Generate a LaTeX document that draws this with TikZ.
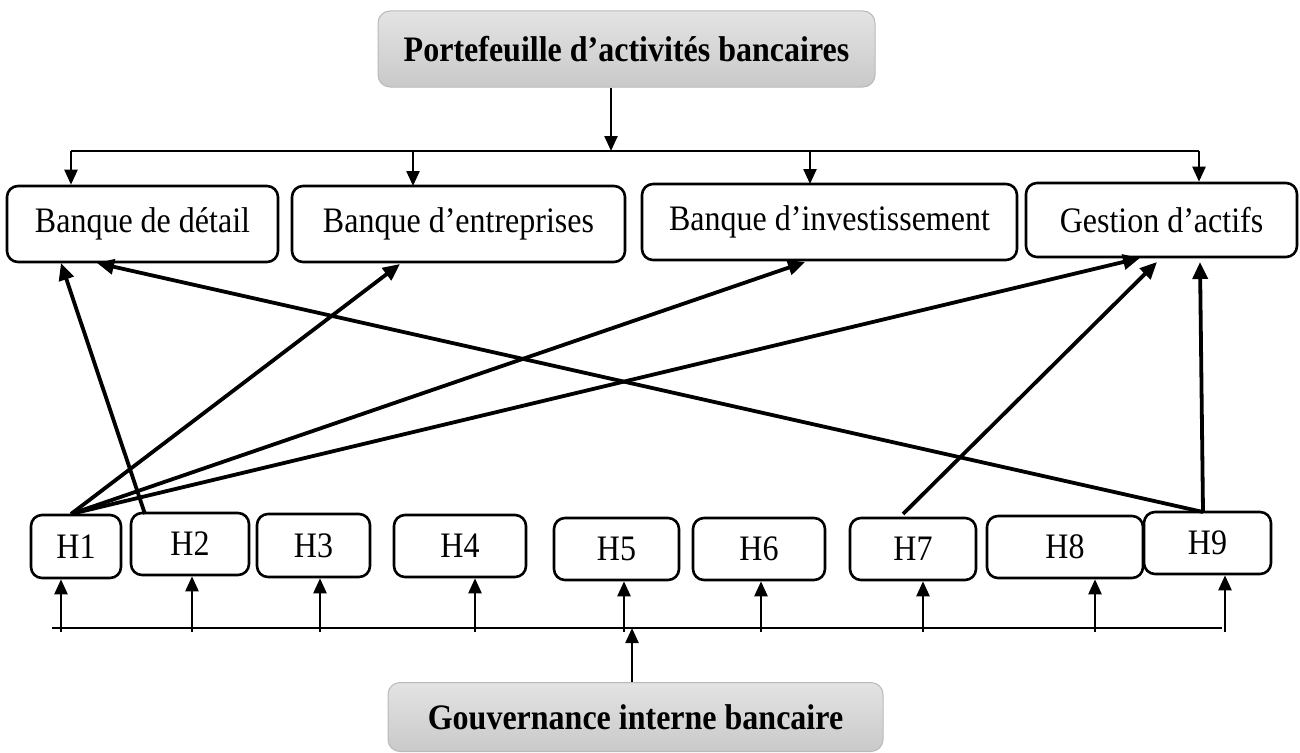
\documentclass[tikz,border=0pt]{standalone}
\usepackage{fontspec}
\usepackage{graphicx}
\setmainfont{Liberation Serif}
\usetikzlibrary{arrows.meta}
\newcommand{\tall}[1]{\scalebox{1}[1.12]{#1}}
\begin{document}
\begin{tikzpicture}[x=1pt,y=-1pt,
  font=\fontsize{32}{36}\selectfont,
  box/.style={draw=black,line width=2.6pt,rounded corners=11pt,inner sep=0pt,fill=white},
  hbox/.style={box},
  grey/.style={draw=gray!55,line width=1pt,rounded corners=12pt,inner sep=0pt,
    top color=gray!22,bottom color=gray!42,font=\fontsize{32}{36}\selectfont\bfseries},
  link/.style={line width=2.4pt,-{Triangle[length=15pt,width=13pt]}},
  plain/.style={line width=2.4pt},
  diag/.style={line width=3.8pt,-{Triangle[length=17pt,width=15pt]}}]
\useasboundingbox (0,0) rectangle (1300,752);
% header / footer
\node[grey,minimum width=497pt,minimum height=76pt] (top) at (626.5,49) {\tall{Portefeuille d’activités bancaires}};
\node[grey,minimum width=495pt,minimum height=69pt] (bot) at (635.5,717) {\tall{Gouvernance interne bancaire}};
% activity boxes
\node[box,minimum width=271pt,minimum height=76pt] (bd) at (142.5,224) {\tall{Banque de détail}};
\node[box,minimum width=333pt,minimum height=76pt] (be) at (458.5,224) {\tall{Banque d’entreprises}};
\node[box,minimum width=375pt,minimum height=76pt] (bi) at (829.5,222) {\tall{Banque d’investissement}};
\node[box,minimum width=271pt,minimum height=74pt] (ga) at (1161.5,220) {\tall{Gestion d’actifs}};
% H boxes
\node[hbox,minimum width=90pt,minimum height=63pt] (h1) at (76,546.5) {\tall{H1}};
\node[hbox,minimum width=118pt,minimum height=62pt] (h2) at (190,544) {\tall{H2}};
\node[hbox,minimum width=113pt,minimum height=63pt] (h3) at (313.5,545.5) {\tall{H3}};
\node[hbox,minimum width=132pt,minimum height=62pt] (h4) at (460,546) {\tall{H4}};
\node[hbox,minimum width=125pt,minimum height=62pt] (h5) at (616.5,549) {\tall{H5}};
\node[hbox,minimum width=132pt,minimum height=62pt] (h6) at (759,549) {\tall{H6}};
\node[hbox,minimum width=126pt,minimum height=62pt] (h7) at (913,549) {\tall{H7}};
\node[hbox,minimum width=156pt,minimum height=62pt] (h8) at (1065,547) {\tall{H8}};
\node[hbox,minimum width=127pt,minimum height=62pt] (h9) at (1207.5,543) {\tall{H9}};
% top distribution
\coordinate (tbus) at (611,151);
\coordinate (tl) at (71,151);
\coordinate (tr) at (1199,151);
\draw[link] (top.south -| tbus) -- (tbus);
\draw[plain] (tl) -- (tr);
\draw[link] (tl) -- (tl |- bd.north);
\draw[link] (413,151) -- (413,186);
\draw[link] (810,151) -- (810,184);
\draw[link] (tr) -- (tr |- ga.north);
% bottom distribution
\coordinate (bbus) at (632,628);
\coordinate (bl) at (52,628);
\coordinate (br) at (1222,628);
\draw[plain] (bl) -- (br);
\draw[link] (bot.north -| bbus) -- (bbus);
\foreach \n/\x in {h1/61,h2/192,h3/320,h4/475,h5/624,h6/761,h7/923,h8/1095,h9/1225}
  \draw[link] (\x,632) -- (\x,0 |- \n.south);
% diagonals
\coordinate (h1a) at (71,514);
\coordinate (h2a) at (145,514);
\coordinate (h7a) at (903,514);
\coordinate (h9a) at (1203,512);
\draw[diag] (h1a) -- (400,264);
\draw[diag] (h1a) -- (805,262);
\draw[diag] (h1a) -- (1140,258);
\draw[diag] (h2a) -- (61,263);
\draw[diag] (h9a) -- (97,263);
\draw[diag] (h9a) -- (1200,262);
\draw[diag] (h7a) -- (1157,262);
\end{tikzpicture}
\end{document}
